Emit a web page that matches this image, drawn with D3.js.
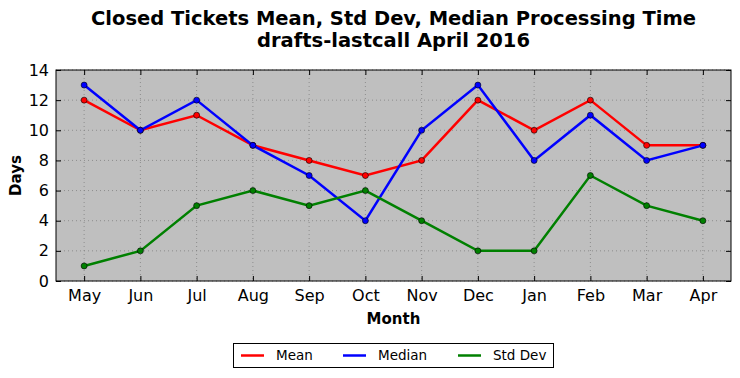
<!DOCTYPE html>
<html><head><meta charset="utf-8">
<script src="https://cdn.jsdelivr.net/npm/d3@7"></script>
<style>body{margin:0;background:#fff;}svg{display:block;font-family:"DejaVu Sans",sans-serif;}</style>
</head><body>
<svg id="c" width="740" height="378"></svg>
<script>
const months = ["May","Jun","Jul","Aug","Sep","Oct","Nov","Dec","Jan","Feb","Mar","Apr"];
const meanVals = [12,10,11,9,8,7,8,12,10,12,9,9];
const medianVals = [13,10,12,9,7,4,10,13,8,11,8,9];
const stdVals = [1,2,5,6,5,6,4,2,2,7,5,4];
const yTicks = [0,2,4,6,8,10,12,14];
const seriesNames = ["Mean","Median","Std Dev"];
const seriesColors = ["#ff0000","#0000ff","#008000"];
const series = [meanVals, medianVals, stdVals];

const L=56,R=731,T=70,B=281;
const svg=d3.select("#c");
const x=d3.scalePoint().domain(months).range([L,R]).padding(0.5);
const y=d3.scaleLinear().domain([0,14]).range([B,T]);

svg.append("rect").attr("x",L).attr("y",T).attr("width",R-L).attr("height",B-T).attr("fill","#bfbfbf");

// grid
const g=svg.append("g");
g.selectAll(".gx").data(months).enter().append("line")
 .attr("x1",d=>x(d)).attr("x2",d=>x(d)).attr("y1",T).attr("y2",B)
 .attr("stroke","#808080").attr("stroke-width",0.8).attr("stroke-dasharray","1,3");
g.selectAll(".gy").data(yTicks).enter().append("line")
 .attr("x1",L).attr("x2",R).attr("y1",d=>y(d)).attr("y2",d=>y(d))
 .attr("stroke","#808080").attr("stroke-width",0.8).attr("stroke-dasharray","1,3");

// axes (inward ticks)
const ax=svg.append("g").attr("transform",`translate(0,${B})`).call(d3.axisBottom(x).tickSizeInner(-5).tickSizeOuter(0).tickPadding(9));
const axT=svg.append("g").attr("transform",`translate(0,${T})`).call(d3.axisTop(x).tickSizeInner(-5).tickSizeOuter(0).tickFormat(""));
const ay=svg.append("g").attr("transform",`translate(${L},0)`).call(d3.axisLeft(y).tickValues(yTicks).tickSizeInner(-5).tickSizeOuter(0).tickPadding(7));
const ayR=svg.append("g").attr("transform",`translate(${R},0)`).call(d3.axisRight(y).tickValues(yTicks).tickSizeInner(-5).tickSizeOuter(0).tickFormat(""));
[ax,axT,ay,ayR].forEach(a=>{a.select(".domain").remove();a.selectAll("line").attr("stroke","#000");a.selectAll("text").attr("font-size",16).attr("fill","#000").attr("font-family","DejaVu Sans, sans-serif");});

svg.append("rect").attr("x",L).attr("y",T).attr("width",R-L).attr("height",B-T).attr("fill","none").attr("stroke","#000").attr("stroke-width",1);

// lines
const line=d3.line().x((d,i)=>x(months[i])).y(d=>y(d));
series.forEach((s,k)=>{
  svg.append("path").datum(s).attr("d",line).attr("fill","none").attr("stroke",seriesColors[k]).attr("stroke-width",2.5);
  svg.selectAll(".m"+k).data(s).enter().append("circle")
   .attr("cx",(d,i)=>x(months[i])).attr("cy",d=>y(d)).attr("r",3)
   .attr("fill",seriesColors[k]).attr("stroke","#000").attr("stroke-width",0.6);
});

// titles
svg.append("text").attr("x",(L+R)/2).attr("y",25).attr("text-anchor","middle").attr("font-size",19.5).attr("font-weight","bold").text("Closed Tickets Mean, Std Dev, Median Processing Time");
svg.append("text").attr("x",(L+R)/2).attr("y",47).attr("text-anchor","middle").attr("font-size",19.5).attr("font-weight","bold").text("drafts-lastcall April 2016");
svg.append("text").attr("x",(L+R)/2).attr("y",324).attr("text-anchor","middle").attr("font-size",15).attr("font-weight","bold").text("Month");
svg.append("text").attr("transform",`translate(21,${(T+B)/2}) rotate(-90)`).attr("text-anchor","middle").attr("font-size",15).attr("font-weight","bold").text("Days");

// legend
const lg=svg.append("g");
lg.append("rect").attr("x",233.5).attr("y",343.5).attr("width",320).attr("height",24).attr("fill","#fff").attr("stroke","#000").attr("stroke-width",1);
const lx=[241,343,458];
seriesNames.forEach((n,k)=>{
  lg.append("line").attr("x1",lx[k]).attr("x2",lx[k]+23).attr("y1",355.5).attr("y2",355.5).attr("stroke",seriesColors[k]).attr("stroke-width",2.5);
  lg.append("text").attr("x",lx[k]+35).attr("y",360).attr("font-size",13.5).text(n);
});
</script>
</body></html>
